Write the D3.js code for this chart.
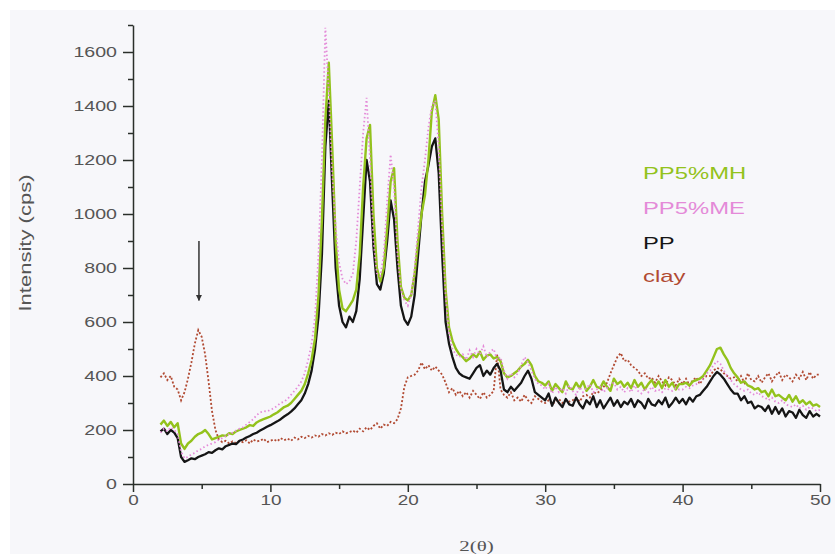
<!DOCTYPE html>
<html>
<head>
<meta charset="utf-8">
<script src="https://cdn.jsdelivr.net/npm/d3@7"></script>
<style>
  body { margin: 0; background: #fff; }
  svg { display: block; font-family: "Liberation Sans", Arial, sans-serif; }
</style>
</head>
<body>
<script>
// sampling angles 2(θ): 2.0 .. 50.0 every 0.25 degree
const twoTheta = d3.range(193).map(i => 2 + i * 0.25);

// PP (black)
const pp = [
  195, 205, 185, 200, 190, 170, 100, 82,
  88, 95, 92, 100, 105, 110, 118, 115,
  125, 132, 128, 140, 145, 150, 148, 160,
  165, 172, 178, 185, 190, 198, 205, 212,
  218, 225, 232, 240, 250, 258, 268, 280,
  295, 310, 335, 370, 420, 500, 620, 850,
  1250, 1420, 1100, 800, 660, 600, 580, 620,
  600, 640, 760, 980, 1200, 1120, 880, 740,
  720, 780, 900, 1050, 980, 800, 660, 610,
  590, 620, 700, 850, 1000, 1120, 1180, 1250,
  1280, 1150, 850, 600, 520, 470, 430, 410,
  400, 395, 390, 410, 430, 440, 400, 420,
  405, 430, 445, 420, 350, 340, 360, 345,
  360, 375, 400, 420, 390, 340, 330, 320,
  310, 335, 290, 320, 300, 285, 315, 295,
  290, 320, 295, 280, 310, 295, 325, 285,
  310, 280, 300, 320, 290, 310, 285, 305,
  295, 315, 285, 310, 300, 280, 315, 295,
  290, 310, 295, 320, 285, 300, 320, 300,
  315, 295, 320, 305, 325, 330, 345, 360,
  380, 400, 415, 405, 390, 370, 350, 335,
  335, 310, 325, 300, 305, 280, 290, 285,
  270, 290, 260, 285, 260, 280, 250, 270,
  265, 245, 275, 255, 245, 270, 250, 260,
  250
];

// PP5%MH (green)
const ppMH = [
  220, 235, 215, 230, 210, 225, 150, 130,
  150, 160, 175, 185, 190, 200, 185, 165,
  170, 175, 180, 178, 188, 185, 195, 200,
  205, 210, 218, 215, 228, 235, 240, 245,
  250, 258, 265, 275, 285, 290, 300, 315,
  330, 345, 370, 410, 460, 540, 700, 980,
  1350, 1560, 1250, 900, 720, 650, 640, 660,
  680, 720, 850, 1100, 1280, 1330, 1000, 800,
  750, 800, 950, 1120, 1170, 900, 730, 690,
  680, 700, 780, 900, 1000, 1070, 1200, 1380,
  1440, 1350, 1000, 720, 580, 530, 500, 480,
  470, 455, 465, 480, 470, 490, 460, 475,
  480, 465, 470, 455, 410, 395, 400, 410,
  420, 435, 445, 460, 440, 400, 380, 375,
  365, 380, 345, 370, 355, 340, 380, 355,
  350, 375, 355, 380, 345, 360, 385, 360,
  355, 380, 360, 345, 390, 370, 380, 360,
  375, 355, 385, 360, 375, 350, 370, 385,
  360, 380, 355, 385, 360, 375, 350, 370,
  370, 375, 365, 380, 385, 390, 400, 420,
  440, 470, 500, 505, 480, 460, 430, 410,
  395, 375, 380, 365, 360, 350, 355, 340,
  345, 325, 350, 325, 330, 320, 310, 330,
  305, 325, 300, 310, 295, 305, 290, 295,
  285
];

// PP5%ME (pink)
const ppME = [
  190, 205, 195, 210, 200, 185, 120, 95,
  100, 110, 115, 125, 130, 140, 145, 150,
  155, 165, 170, 178, 185, 190, 198, 205,
  210, 220, 230, 240, 255, 265, 270, 268,
  275, 280, 290, 300, 305, 315, 330, 345,
  360, 380, 410, 460, 520, 620, 850, 1200,
  1690, 1450, 1150, 950, 820, 760, 740, 750,
  780, 900, 1100, 1300, 1430, 1200, 900, 780,
  770, 850, 1050, 1220, 1100, 850, 720, 680,
  660, 700, 800, 950, 1100, 1200, 1320, 1400,
  1420, 1250, 950, 700, 560, 500, 480, 470,
  480, 460, 495, 470, 500, 480, 510, 470,
  490, 500, 460, 470, 420, 390, 410, 395,
  410, 440, 470, 450, 420, 390, 370, 365,
  350, 370, 335, 360, 340, 355, 335, 365,
  345, 330, 360, 340, 355, 370, 340, 350,
  360, 340, 355, 370, 375, 350, 360, 340,
  355, 340, 365, 345, 335, 355, 340, 360,
  345, 350, 340, 355, 350, 345, 355, 350,
  350, 360, 355, 365, 370, 380, 390, 410,
  420, 440, 455, 445, 420, 400, 385, 370,
  360, 350, 345, 350, 335, 330, 340, 325,
  320, 310, 320, 305, 300, 310, 295, 290,
  285, 295, 280, 290, 275, 285, 280, 270,
  275
];

// clay (brown)
const clay = [
  395, 410, 385, 400, 360, 350, 310, 340,
  390, 450, 520, 570, 545, 480, 380, 270,
  200, 165, 155, 160, 150, 158, 152, 160,
  155, 162, 150, 165, 158, 160, 168, 155,
  160, 165, 158, 170, 162, 168, 160, 172,
  165, 175, 170, 178, 172, 180, 175, 185,
  180, 188, 182, 190, 185, 195, 188, 192,
  198, 190, 205, 195, 210, 200, 215, 225,
  205, 220, 215, 230, 225, 240, 280, 360,
  395, 400, 405, 420, 450, 425, 440, 420,
  435, 420, 405, 375, 340, 355, 330, 345,
  325, 340, 320, 345, 330, 315, 340, 320,
  330, 345, 480, 350, 330, 320, 340, 310,
  320, 305, 330, 310, 300, 325, 315, 305,
  300, 310, 295, 305, 315, 300, 310, 305,
  310, 320, 305, 325, 330, 320, 340, 335,
  345, 360, 375, 410, 440, 470, 485, 455,
  460, 440, 430, 420, 400, 410, 390, 395,
  375, 400, 380, 365, 395, 385, 365, 390,
  370, 390, 365, 385, 395, 370, 390, 400,
  400, 420, 430, 425, 410, 400, 390, 395,
  380, 400, 375, 410, 385, 380, 400, 375,
  395, 410, 380, 400, 415, 385, 405, 395,
  380, 405, 390, 415, 385, 415, 390, 405,
  405
];

const xTicks = [0, 10, 20, 30, 40, 50];
const xMinorTicks = [5, 15, 25, 35, 45];
const yTicks = [0, 200, 400, 600, 800, 1000, 1200, 1400, 1600];
const yMinorTicks = [100, 300, 500, 700, 900, 1100, 1300, 1500, 1700];

const legendNames = ['PP5%MH', 'PP5%ME', 'PP', 'clay'];
const seriesColors = ['#93c21c', '#e48ad8', '#151515', '#b14a32'];

// arrow marking the clay basal reflection
const arrowAt = 4.8;
const arrowFrom = 900;
const arrowTo = 680;

const [w, h] = [835, 554];

const svg = d3.select('body')
    .append('svg')
    .attr('width', w)
    .attr('height', h);

// scanned paper background
svg.append('rect')
    .attr('x', 10).attr('y', 10)
    .attr('width', w - 10).attr('height', h - 10)
    .attr('fill', '#f7f7fa');

const xScale = d3.scaleLinear().domain([0, 50]).range([133, 820]);
const yScale = d3.scaleLinear().domain([0, 1700]).range([484, 25]);

// stretch text horizontally like the scan
function stretch(sel, k) {
    sel.each(function() {
        const len = this.getComputedTextLength();
        d3.select(this)
            .attr('textLength', len * k)
            .attr('lengthAdjust', 'spacingAndGlyphs');
    });
}

// Lines
const line = d3.line()
    .x((d, i) => xScale(twoTheta[i]))
    .y(d => yScale(d));

svg.append('path')
    .datum(clay)
    .attr('fill', 'none')
    .attr('stroke', seriesColors[3])
    .attr('stroke-width', 1.8)
    .attr('stroke-dasharray', '2,2')
    .attr('d', line);

svg.append('path')
    .datum(pp)
    .attr('fill', 'none')
    .attr('stroke', seriesColors[2])
    .attr('stroke-width', 2.3)
    .attr('stroke-linejoin', 'round')
    .attr('d', line);

svg.append('path')
    .datum(ppMH)
    .attr('fill', 'none')
    .attr('stroke', seriesColors[0])
    .attr('stroke-width', 2.4)
    .attr('stroke-linejoin', 'round')
    .attr('d', line);

svg.append('path')
    .datum(ppME)
    .attr('fill', 'none')
    .attr('stroke', seriesColors[1])
    .attr('stroke-width', 1.8)
    .attr('stroke-dasharray', '1.5,2.5')
    .attr('d', line);

// Axes
const xAxis = d3.axisBottom(xScale)
    .tickValues(xTicks)
    .tickSize(8)
    .tickSizeOuter(0)
    .tickPadding(3)
    .tickFormat(d3.format('d'));

const xMinor = d3.axisBottom(xScale)
    .tickValues(xMinorTicks)
    .tickSize(5)
    .tickFormat('');

const yAxis = d3.axisLeft(yScale)
    .tickValues(yTicks)
    .tickSize(10)
    .tickSizeOuter(0)
    .tickPadding(6)
    .tickFormat(d3.format('d'));

const yMinor = d3.axisLeft(yScale)
    .tickValues(yMinorTicks)
    .tickSize(5)
    .tickFormat('');

const gx = svg.append('g')
    .attr('transform', `translate(0, ${yScale(0)})`)
    .call(xAxis);
svg.append('g')
    .attr('transform', `translate(0, ${yScale(0)})`)
    .call(xMinor)
    .select('.domain').remove();

const gy = svg.append('g')
    .attr('transform', `translate(${xScale(0)}, 0)`)
    .call(yAxis);
svg.append('g')
    .attr('transform', `translate(${xScale(0)}, 0)`)
    .call(yMinor)
    .select('.domain').remove();

svg.selectAll('.domain, .tick line')
    .attr('stroke', '#2a2f2a')
    .attr('stroke-width', 1.5);

[gx, gy].forEach(g => g.selectAll('text')
    .attr('font-size', 14)
    .attr('font-family', '"Liberation Sans", Arial, sans-serif')
    .attr('fill', '#555'));
stretch(gx.selectAll('text'), 1.35);
stretch(gy.selectAll('text'), 1.4);

// Axis titles
const xTitle = svg.append('text')
    .attr('x', xScale(25))
    .attr('y', 551)
    .attr('text-anchor', 'middle')
    .attr('font-family', '"Liberation Serif", serif')
    .attr('font-size', 15)
    .attr('fill', '#555')
    .text('2(θ)');
stretch(xTitle, 1.4);

svg.append('text')
    .attr('transform', 'translate(31, 243) rotate(-90)')
    .attr('text-anchor', 'middle')
    .attr('font-size', 17)
    .attr('fill', '#555')
    .attr('textLength', 137)
    .attr('lengthAdjust', 'spacingAndGlyphs')
    .text('Intensity (cps)');

// Arrow
svg.append('defs').append('marker')
    .attr('id', 'head')
    .attr('viewBox', '0 0 10 10')
    .attr('refX', 9).attr('refY', 5)
    .attr('markerWidth', 4).attr('markerHeight', 6)
    .attr('markerUnits', 'strokeWidth')
    .attr('orient', 'auto')
    .append('path')
    .attr('d', 'M0,0 L10,5 L0,10 Z')
    .attr('fill', '#333');

svg.append('line')
    .attr('x1', xScale(arrowAt)).attr('x2', xScale(arrowAt))
    .attr('y1', yScale(arrowFrom)).attr('y2', yScale(arrowTo))
    .attr('stroke', '#333')
    .attr('stroke-width', 1.5)
    .attr('marker-end', 'url(#head)');

// Legend
const legend = svg.append('g')
    .attr('transform', 'translate(643, 0)');

legend.selectAll('text')
    .data(legendNames)
    .enter()
    .append('text')
    .attr('x', 0)
    .attr('y', (d, i) => [179, 214, 249, 282][i])
    .attr('font-size', 17)
    .attr('fill', (d, i) => seriesColors[i])
    .text(d => d)
    .call(stretch, 1.4);
</script>
</body>
</html>
